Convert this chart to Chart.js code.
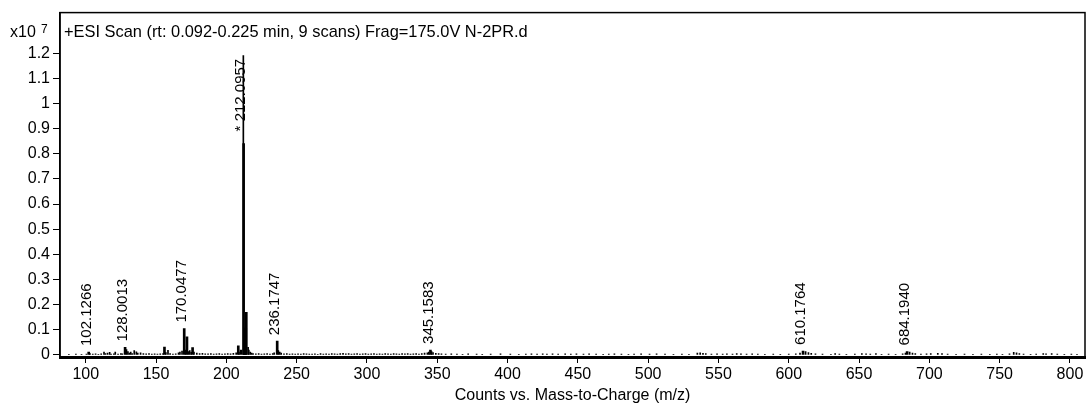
<!DOCTYPE html>
<html>
<head>
<meta charset="utf-8">
<title>ESI Scan N-2PR</title>
<script src="https://cdn.jsdelivr.net/npm/chart.js@4.4.1/dist/chart.umd.min.js"></script>
<style>
    html, body { margin: 0; padding: 0; background: #fff; }
    #wrap { width: 1091px; height: 410px; }
</style>
</head>
<body>
<div id="wrap"><canvas id="ms-chart" width="1091" height="410"></canvas></div>
<script>
// Ejes
const xTicks = [100, 150, 200, 250, 300, 350, 400, 450, 500, 550, 600, 650, 700, 750, 800];
const yTicks = [0, 0.1, 0.2, 0.3, 0.4, 0.5, 0.6, 0.7, 0.8, 0.9, 1, 1.1, 1.2];
const yTickLabels = ['0', '0.1', '0.2', '0.3', '0.4', '0.5', '0.6', '0.7', '0.8', '0.9', '1', '1.1', '1.2'];

// Picos principales (cuentas x10^7)
const peakMz = [102.1266, 128.0013, 156.0, 170.0477, 172.0, 176.0, 208.5, 210.5,
    212.3, 212.8, 213.3, 213.8, 214.2, 236.1747, 345.1583, 610.1764, 684.1940];
const peakCounts = [0.012, 0.030, 0.031, 0.105, 0.072, 0.029, 0.036, 0.020,
    0.84, 0.107, 0.107, 0.107, 0.17, 0.055, 0.020, 0.016, 0.014];

// Centroide del pico base
const apexMz = [212.0957];
const apexCounts = [1.19];

// Ruido de fondo
const noiseMz = [88, 93, 97, 100.5, 103, 105, 107, 109, 111, 113, 114, 115.5, 117, 118, 120, 121, 123, 125, 126,
    129, 130, 131, 132, 133, 134.5, 136, 137, 139, 141, 143, 145, 147, 149, 151, 153, 155, 157, 158.5, 160,
    162, 164, 166, 167, 168.5, 171, 173, 174, 175, 177, 179, 181, 183, 185, 187, 189, 191, 193, 195, 197,
    199, 201, 203, 205, 207, 209, 215.5, 216, 217, 218, 219, 221, 223, 225, 227, 229, 231, 233, 234, 237,
    238, 239, 241, 243, 245, 247, 249, 251, 253, 255, 257, 259, 261, 263, 265, 267, 269, 271, 273, 275,
    277, 279, 281, 283, 285, 287, 289, 291, 293, 295, 297, 299, 301, 303, 305, 307, 309, 311, 313, 315,
    317, 319, 321, 323, 325, 327, 329, 331, 333, 335, 337, 339, 341, 343, 344, 346, 347, 349, 351, 353,
    356, 360, 364, 368, 372, 378, 382, 388, 395, 402, 408, 413, 417, 421, 425, 428, 432, 436, 441, 445,
    449, 454, 458, 463, 468, 472, 476, 481, 486, 490, 495, 501, 506, 512, 518, 524, 529, 535, 537, 539,
    541, 545, 549, 553, 556, 560, 563, 566, 570, 574, 578, 583, 589, 594, 600, 605, 608, 612, 614, 616,
    619, 624, 630, 633, 636, 641, 647, 652, 655, 658, 662, 666, 671, 676, 681, 683, 686, 688, 690, 694,
    698, 701, 706, 709, 713, 719, 725, 731, 737, 743, 748, 752, 757, 760, 762, 764, 767, 772, 776, 781,
    783, 787, 791, 796, 801, 805];
const noiseCounts = [0.003, 0.004, 0.003, 0.004, 0.006, 0.004, 0.005, 0.003, 0.005, 0.012, 0.006, 0.008, 0.011, 0.004, 0.005, 0.012, 0.004, 0.006, 0.005,
    0.021, 0.014, 0.008, 0.012, 0.006, 0.018, 0.013, 0.008, 0.009, 0.006, 0.005, 0.006, 0.004, 0.005, 0.004, 0.005, 0.006, 0.010, 0.019, 0.006,
    0.004, 0.005, 0.009, 0.012, 0.016, 0.020, 0.014, 0.018, 0.011, 0.012, 0.008, 0.006, 0.007, 0.005, 0.005, 0.006, 0.004, 0.005, 0.006, 0.004,
    0.005, 0.006, 0.005, 0.007, 0.009, 0.012, 0.030, 0.020, 0.012, 0.008, 0.006, 0.005, 0.006, 0.004, 0.005, 0.006, 0.004, 0.006, 0.009, 0.018,
    0.012, 0.008, 0.005, 0.006, 0.004, 0.005, 0.004, 0.005, 0.004, 0.006, 0.005, 0.004, 0.004, 0.005, 0.003, 0.006, 0.004, 0.005, 0.004, 0.006,
    0.005, 0.004, 0.006, 0.007, 0.005, 0.006, 0.004, 0.005, 0.006, 0.004, 0.005, 0.006, 0.004, 0.005, 0.006, 0.004, 0.005, 0.004, 0.006, 0.005,
    0.004, 0.006, 0.005, 0.004, 0.006, 0.005, 0.006, 0.004, 0.005, 0.006, 0.004, 0.006, 0.008, 0.009, 0.012, 0.014, 0.010, 0.007, 0.006, 0.005,
    0.004, 0.005, 0.004, 0.003, 0.005, 0.004, 0.003, 0.004, 0.005, 0.004, 0.003, 0.004, 0.005, 0.004, 0.005, 0.004, 0.005, 0.004, 0.005, 0.004,
    0.005, 0.004, 0.005, 0.004, 0.003, 0.004, 0.005, 0.004, 0.003, 0.004, 0.005, 0.004, 0.005, 0.004, 0.003, 0.004, 0.003, 0.008, 0.009, 0.007,
    0.006, 0.004, 0.005, 0.004, 0.005, 0.004, 0.006, 0.005, 0.004, 0.005, 0.004, 0.003, 0.004, 0.003, 0.004, 0.005, 0.008, 0.014, 0.010, 0.007,
    0.005, 0.004, 0.003, 0.006, 0.004, 0.003, 0.004, 0.006, 0.005, 0.004, 0.006, 0.003, 0.004, 0.003, 0.005, 0.008, 0.012, 0.008, 0.006, 0.004,
    0.005, 0.006, 0.007, 0.006, 0.004, 0.003, 0.004, 0.003, 0.004, 0.003, 0.004, 0.003, 0.005, 0.011, 0.009, 0.006, 0.004, 0.003, 0.004, 0.006,
    0.005, 0.006, 0.004, 0.003, 0.004, 0.003];

// Etiquetas de picos
const labelMz = [102.1266, 128.0013, 170.0477, 212.0957, 236.1747, 345.1583, 610.1764, 684.1940];
const labelCounts = [0.012, 0.030, 0.105, 0.865, 0.055, 0.020, 0.016, 0.014];
const labelText = ['102.1266', '128.0013', '170.0477', '* 212.0957', '236.1747', '345.1583', '610.1764', '684.1940'];

const scanTitle = '+ESI Scan (rt: 0.092-0.225 min, 9 scans) Frag=175.0V N-2PR.d';
const FONT = '"Liberation Sans", Arial, sans-serif';

Chart.defaults.font.family = FONT;
Chart.defaults.font.size = 16;
Chart.defaults.color = '#000';

function toPoints(xs, ys) {
    return xs.map((x, i) => ({ x: x, y: ys[i] }));
}

// Marco, título del scan y multiplicador
const framePlugin = {
    id: 'frame',
    afterDraw(chart) {
        const { ctx, chartArea: a } = chart;
        ctx.save();
        ctx.strokeStyle = '#000';
        ctx.lineWidth = 1.5;
        ctx.strokeRect(a.left, a.top, a.right - a.left, a.bottom - a.top);
        ctx.fillStyle = '#000';
        ctx.font = '16.4px ' + FONT;
        ctx.textBaseline = 'alphabetic';
        ctx.fillText(scanTitle, a.left + 4, a.top + 24);
        ctx.font = '16px ' + FONT;
        ctx.fillText('x10', 10, a.top + 24);
        ctx.font = '12px ' + FONT;
        ctx.fillText('7', 41, a.top + 20);
        ctx.restore();
    }
};

// Etiquetas rotadas sobre los picos
const peakLabelPlugin = {
    id: 'peakLabels',
    afterDatasetsDraw(chart) {
        const { ctx, scales: { x, y } } = chart;
        ctx.save();
        ctx.fillStyle = '#000';
        ctx.font = '15px ' + FONT;
        ctx.textAlign = 'left';
        ctx.textBaseline = 'middle';
        labelMz.forEach((mz, i) => {
            const px = x.getPixelForValue(mz) - 2;
            const py = y.getPixelForValue(labelCounts[i]) - 6;
            ctx.save();
            ctx.translate(px, py);
            ctx.rotate(-Math.PI / 2);
            ctx.fillText(labelText[i], 0, 0);
            ctx.restore();
        });
        ctx.restore();
    }
};

const ctx = document.getElementById('ms-chart').getContext('2d');
new Chart(ctx, {
    type: 'bar',
    data: {
        datasets: [
            { label: 'ruido', data: toPoints(noiseMz, noiseCounts), backgroundColor: '#000', barThickness: 1, grouped: false },
            { label: 'picos', data: toPoints(peakMz, peakCounts), backgroundColor: '#000', barThickness: 2, grouped: false },
            { label: 'base', data: toPoints(apexMz, apexCounts), backgroundColor: '#000', barThickness: 1, grouped: false }
        ]
    },
    options: {
        responsive: false,
        animation: false,
        layout: { padding: { left: 0, top: 11, right: 6, bottom: 0 } },
        plugins: { legend: { display: false }, tooltip: { enabled: false } },
        scales: {
            x: {
                type: 'linear',
                min: 81.7,
                max: 810.7,
                offset: false,
                afterBuildTicks: s => { s.ticks = xTicks.map(v => ({ value: v })); },
                afterFit: s => { s.height = 53; },
                grid: { drawOnChartArea: false, drawTicks: true, tickLength: 6, tickColor: '#000', offset: false },
                border: { display: true, color: '#000', width: 3 },
                ticks: { color: '#000', padding: 2, maxRotation: 0, autoSkip: false, font: { size: 16 } },
                title: { display: true, text: 'Counts vs. Mass-to-Charge (m/z)', color: '#000', font: { size: 16 }, padding: { top: 0, bottom: 5 } }
            },
            y: {
                min: -0.008,
                max: 1.361,
                afterBuildTicks: s => { s.ticks = yTicks.map(v => ({ value: v })); },
                afterFit: s => { s.width = 60; },
                grid: { drawOnChartArea: false, drawTicks: true, tickLength: 7, tickColor: '#000' },
                border: { display: true, color: '#000', width: 1.5 },
                ticks: { color: '#000', padding: 3, autoSkip: false, font: { size: 16 }, callback: (v, i) => yTickLabels[i] }
            }
        }
    },
    plugins: [framePlugin, peakLabelPlugin]
});
</script>
</body>
</html>
